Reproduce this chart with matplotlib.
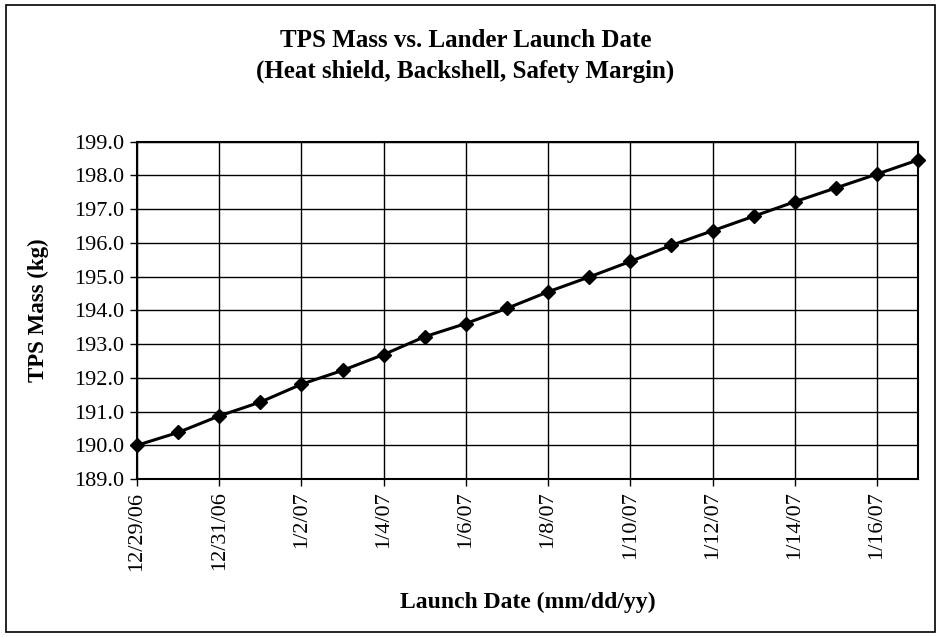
import numpy as np
import matplotlib
matplotlib.use("Agg")
import matplotlib.pyplot as plt
from matplotlib.patches import Rectangle

# datos
fechas = ["12/29/06", "12/30/06", "12/31/06", "1/1/07", "1/2/07", "1/3/07", "1/4/07",
          "1/5/07", "1/6/07", "1/7/07", "1/8/07", "1/9/07", "1/10/07", "1/11/07",
          "1/12/07", "1/13/07", "1/14/07", "1/15/07", "1/16/07", "1/17/07"]
masa_tps = [190.0, 190.38, 190.87, 191.28, 191.81, 192.22, 192.69, 193.22, 193.61, 194.06,
            194.55, 194.99, 195.45, 195.93, 196.36, 196.79, 197.22, 197.63, 198.04, 198.46]
etiquetas_y = ["189.0", "190.0", "191.0", "192.0", "193.0", "194.0", "195.0",
               "196.0", "197.0", "198.0", "199.0"]

plt.rcParams["font.family"] = ["Liberation Serif", "DejaVu Serif"]

fig = plt.figure(figsize=(9.4, 6.37), dpi=100)
ax = fig.add_axes([0.1457, 0.248, 0.831, 0.5295])

x = np.arange(len(fechas))
ax.plot(x, masa_tps, color="black", linewidth=2.2, marker="D", markersize=7,
        clip_on=False, zorder=3)

ax.set_xlim(0, len(fechas) - 1)
ax.set_ylim(189, 199)
ax.set_yticks([float(v) for v in etiquetas_y])
ax.set_yticklabels(etiquetas_y, fontsize=16)
ax.set_xticks(x[::2])
ax.set_xticklabels(fechas[::2], rotation=90, fontsize=16)

ax.grid(True, color="black", linewidth=1.0)
ax.set_axisbelow(True)
for s in ax.spines.values():
    s.set_linewidth(1.5)
ax.tick_params(direction="out", length=5, width=1, color="black", pad=4)

ax.set_xlabel("Launch Date (mm/dd/yy)", fontsize=17, fontweight="bold", labelpad=15)
ax.set_ylabel("TPS Mass (kg)", fontsize=16.5, fontweight="bold", labelpad=18)

fig.text(0.495, 0.937, "TPS Mass vs. Lander Launch Date", ha="center", va="center",
         fontsize=18, fontweight="bold")
fig.text(0.495, 0.888, "(Heat shield, Backshell, Safety Margin)", ha="center", va="center",
         fontsize=18, fontweight="bold")

fig.patches.append(Rectangle((0.006, 0.008), 0.989, 0.984, transform=fig.transFigure,
                             fill=False, edgecolor="black", linewidth=1.2))

fig.savefig("out.png", dpi=100)
